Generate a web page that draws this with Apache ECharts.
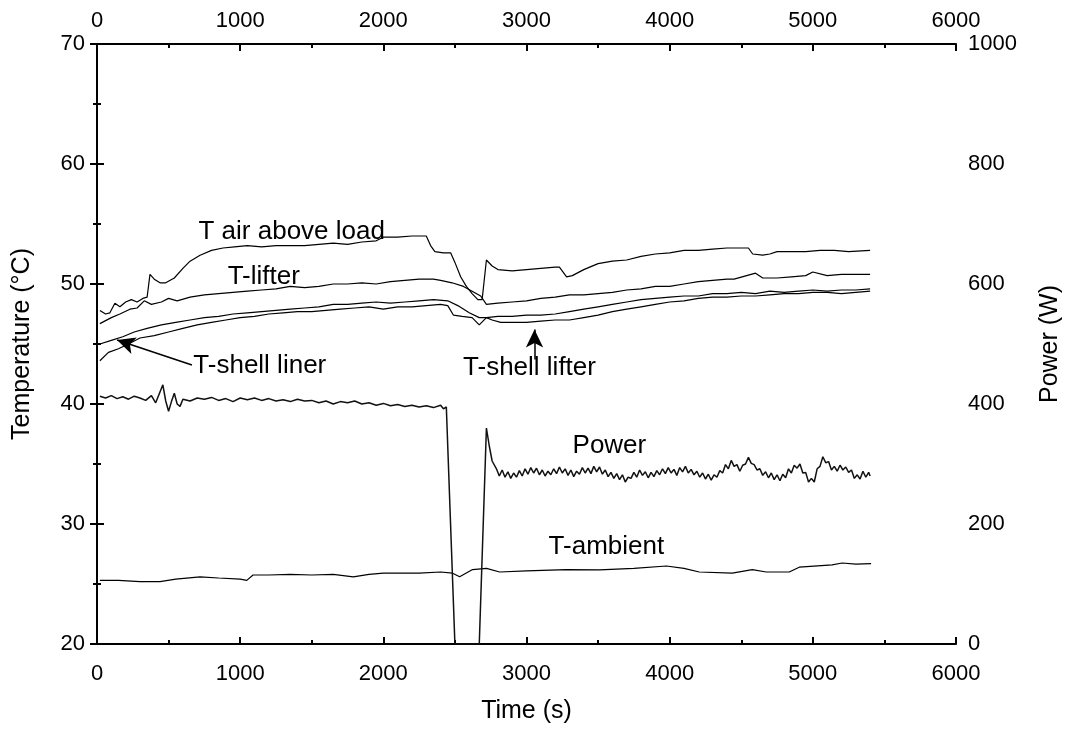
<!DOCTYPE html>
<html>
<head>
<meta charset="utf-8">
<script src="https://cdn.jsdelivr.net/npm/echarts@6/dist/echarts.min.js"></script>
<style>
  html, body { margin: 0; padding: 0; background: #fff; }
  #chart { width: 1071px; height: 729px; }
</style>
</head>
<body>
<div id="chart"></div>
<script>
// time ticks (s)
const timeTicks = [0, 1000, 2000, 3000, 4000, 5000, 6000]

// [time (s), temperature (°C)]
const airAboveLoad = [
  [20,47.8],[60,47.5],[90,47.6],[125,48.4],[160,48.1],[200,48.5],[240,48.7],[280,48.5],[320,48.8],[350,48.9],
  [370,50.8],[400,50.4],[440,50.1],[480,50.1],[540,50.5],[600,51.3],[650,51.9],[720,52.4],[800,52.8],[880,53.0],
  [960,53.1],[1050,53.2],[1150,53.1],[1250,53.2],[1350,53.2],[1450,53.2],[1550,53.3],[1650,53.4],[1750,53.3],
  [1850,53.5],[1950,53.6],[2000,53.9],[2100,53.9],[2200,54.0],[2300,54.0],[2330,53.2],[2360,52.7],[2420,52.6],
  [2470,52.6],[2500,51.8],[2540,50.6],[2580,49.8],[2620,49.2],[2660,48.7],[2690,48.7],[2720,52.0],[2760,51.5],
  [2800,51.2],[2900,51.1],[3000,51.2],[3100,51.3],[3200,51.4],[3230,51.4],[3280,50.6],[3320,50.7],[3400,51.2],
  [3500,51.7],[3600,51.9],[3700,52.0],[3800,52.3],[3900,52.5],[4000,52.6],[4100,52.8],[4200,52.8],[4300,52.9],
  [4400,53.0],[4500,53.0],[4550,53.0],[4580,52.5],[4650,52.4],[4700,52.5],[4750,52.7],[4850,52.7],[4950,52.7],
  [5050,52.8],[5150,52.8],[5250,52.7],[5400,52.8]
]

const lifter = [
  [20,46.7],[100,47.2],[160,47.5],[230,47.9],[280,48.0],[330,48.6],[380,48.3],[450,48.5],[500,48.8],[560,48.6],
  [650,48.9],[750,49.1],[850,49.2],[950,49.3],[1050,49.4],[1150,49.5],[1250,49.6],[1350,49.8],[1450,49.7],
  [1550,49.8],[1650,50.0],[1750,50.0],[1850,50.1],[1950,50.0],[2050,50.2],[2150,50.3],[2250,50.4],[2350,50.4],
  [2400,50.3],[2480,50.1],[2560,49.8],[2620,49.4],[2680,49.0],[2720,48.3],[2800,48.4],[2900,48.5],[3000,48.6],
  [3100,48.8],[3200,48.9],[3300,49.1],[3400,49.1],[3500,49.2],[3600,49.3],[3700,49.5],[3800,49.6],[3900,49.8],
  [4000,49.8],[4100,50.0],[4200,50.2],[4300,50.3],[4400,50.4],[4450,50.4],[4600,50.9],[4650,50.5],[4750,50.5],
  [4850,50.6],[4950,50.7],[5000,51.0],[5100,50.7],[5200,50.8],[5300,50.8],[5400,50.8]
]

const shellLiner = [
  [20,45.0],[100,45.3],[180,45.6],[260,46.0],[350,46.3],[450,46.6],[550,46.8],[650,47.0],[750,47.2],[850,47.3],
  [950,47.5],[1050,47.6],[1150,47.7],[1250,47.8],[1350,47.9],[1450,48.0],[1550,48.1],[1650,48.3],[1750,48.3],
  [1850,48.4],[1950,48.5],[2050,48.4],[2150,48.5],[2250,48.6],[2350,48.7],[2450,48.6],[2520,48.2],[2600,47.6],
  [2670,47.2],[2720,47.2],[2800,47.3],[2900,47.3],[3000,47.4],[3100,47.4],[3200,47.5],[3300,47.7],[3400,47.9],
  [3500,48.1],[3600,48.3],[3700,48.5],[3800,48.7],[3900,48.8],[4000,48.9],[4100,49.0],[4200,49.0],[4300,49.2],
  [4400,49.2],[4500,49.3],[4600,49.2],[4700,49.4],[4800,49.3],[4900,49.4],[5000,49.5],[5100,49.4],[5200,49.5],
  [5300,49.5],[5400,49.6]
]

const shellLifter = [
  [20,43.6],[80,44.3],[150,44.6],[220,45.0],[300,45.5],[400,45.7],[500,46.0],[600,46.3],[700,46.6],[800,46.8],
  [900,47.0],[1000,47.2],[1100,47.3],[1200,47.5],[1300,47.6],[1400,47.7],[1500,47.7],[1600,47.8],[1700,47.9],
  [1800,48.0],[1900,48.1],[2000,47.9],[2100,48.1],[2200,48.1],[2300,48.2],[2400,48.3],[2450,48.2],[2490,47.4],
  [2550,47.3],[2620,47.2],[2670,46.6],[2720,47.2],[2760,47.0],[2820,46.8],[2900,46.8],[3000,46.8],[3100,46.9],
  [3200,47.0],[3300,47.0],[3400,47.2],[3500,47.4],[3600,47.7],[3700,47.9],[3800,48.1],[3900,48.3],[4000,48.5],
  [4100,48.6],[4200,48.8],[4300,48.9],[4400,48.9],[4500,49.0],[4600,49.0],[4700,49.1],[4800,49.2],[4900,49.2],
  [5000,49.3],[5100,49.3],[5200,49.2],[5300,49.3],[5400,49.4]
]

const ambient = [
  [20,25.3],[150,25.3],[300,25.2],[440,25.2],[550,25.4],[720,25.6],[850,25.5],[1000,25.4],[1046,25.3],
  [1090,25.75],[1200,25.75],[1350,25.8],[1500,25.75],[1650,25.8],[1790,25.6],[1900,25.8],[2000,25.9],
  [2114,25.9],[2250,25.9],[2400,26.0],[2484,25.9],[2533,25.6],[2623,26.2],[2721,26.3],[2812,26.0],[3000,26.1],
  [3279,26.2],[3509,26.17],[3750,26.3],[3977,26.5],[4100,26.3],[4207,26.0],[4437,25.9],[4577,26.2],[4675,26.0],
  [4835,26.0],[4905,26.4],[5135,26.6],[5205,26.75],[5300,26.65],[5407,26.7]
]

// [time (s), power (W)]
const power = [
  [20,413],[60,410],[100,414],[140,409],[180,412],[220,408],[260,413],[300,410],[340,406],[380,414],[410,402],
  [440,420],[460,432],[480,405],[500,388],[520,404],[540,418],[560,400],[580,396],[600,408],[650,405],[700,410],
  [750,408],[800,411],[850,406],[900,409],[950,404],[1000,410],[1050,407],[1100,410],[1150,406],[1200,409],
  [1250,405],[1300,407],[1350,404],[1400,408],[1450,405],[1500,406],[1550,402],[1600,405],[1650,400],[1700,404],
  [1750,402],[1800,405],[1850,400],[1900,402],[1950,398],[2000,401],[2050,397],[2100,399],[2150,396],[2200,398],
  [2250,395],[2300,397],[2350,394],[2400,398],[2420,392],[2440,395],[2450,392],[2500,0],[2670,0],[2720,360],
  [2740,330],[2760,305],[2790,292],[2810,280],[2830,290],[2850,278],[2870,287],[2890,276],[2910,285],[2930,278],
  [2950,289],[2970,280],[2990,292],[3010,283],[3030,294],[3050,285],[3070,293],[3090,282],[3110,290],[3130,280],
  [3150,288],[3170,282],[3190,292],[3210,284],[3230,295],[3250,285],[3270,292],[3290,281],[3310,290],[3330,279],
  [3350,288],[3370,283],[3390,294],[3410,285],[3430,293],[3450,284],[3470,296],[3490,287],[3510,295],[3530,283],
  [3550,290],[3570,279],[3590,286],[3610,276],[3630,284],[3650,274],[3670,282],[3690,270],[3710,278],[3730,276],
  [3750,286],[3770,278],[3790,290],[3810,281],[3830,287],[3850,277],[3870,286],[3890,279],[3910,289],[3930,282],
  [3950,292],[3970,284],[3990,294],[4010,285],[4030,291],[4050,281],[4070,294],[4090,287],[4110,296],[4130,285],
  [4150,291],[4170,282],[4190,288],[4210,278],[4230,285],[4250,275],[4270,283],[4290,273],[4310,282],[4330,278],
  [4350,289],[4370,285],[4390,299],[4410,292],[4430,306],[4450,296],[4470,299],[4490,288],[4510,298],[4530,300],
  [4550,311],[4570,301],[4590,299],[4610,290],[4630,292],[4650,281],[4670,287],[4690,277],[4710,285],[4730,274],
  [4750,282],[4770,272],[4790,283],[4810,277],[4830,292],[4850,285],[4870,298],[4890,293],[4910,300],[4930,285],
  [4950,286],[4970,270],[4990,276],[5010,270],[5030,292],[5050,296],[5070,312],[5090,302],[5110,304],[5130,290],
  [5150,296],[5170,288],[5190,298],[5210,290],[5230,295],[5250,286],[5270,290],[5290,276],[5310,282],[5330,275],
  [5350,288],[5370,278],[5390,286],[5400,280]
]

const font = 'Liberation Sans, Arial, sans-serif'
const plain = v => String(v)

function lineSeries(name, data, yIndex, extra) {
  return Object.assign({
    name: name,
    type: 'line',
    data: data,
    yAxisIndex: yIndex,
    showSymbol: false,
    symbol: 'none',
    lineStyle: { color: '#000', width: 1.2 },
    z: 3
  }, extra || {})
}

function tag(text, t, v) {
  return {
    coord: [t, v],
    symbol: 'circle',
    symbolSize: 1,
    itemStyle: { color: 'rgba(0,0,0,0)' },
    label: { show: true, position: 'inside', formatter: text, color: '#000', fontSize: 26, fontFamily: font }
  }
}

function arrow(t0, v0, t1, v1) {
  return [{ coord: [t0, v0] }, { coord: [t1, v1] }]
}

function xAxis(pos, margin) {
  return {
    type: 'value',
    position: pos,
    min: 0,
    max: 6000,
    interval: 1000,
    axisLine: { show: true, onZero: false, lineStyle: { color: '#000', width: 2 } },
    axisTick: { show: true, inside: true, length: 7, lineStyle: { color: '#000', width: 2 } },
    minorTick: { show: true, splitNumber: 2, length: 4, lineStyle: { color: '#000', width: 2 } },
    axisLabel: { color: '#000', fontSize: 22, fontFamily: font, margin: margin, formatter: plain },
    splitLine: { show: false },
    data: timeTicks
  }
}

function yAxis(pos, min, max, step, name, gap) {
  return {
    type: 'value',
    position: pos,
    min: min,
    max: max,
    interval: step,
    name: name,
    nameLocation: 'middle',
    nameRotate: 90,
    nameGap: gap,
    nameTextStyle: { color: '#000', fontSize: 25, fontFamily: font },
    axisLine: { show: true, lineStyle: { color: '#000', width: 2 } },
    axisTick: { show: true, inside: true, length: 7, lineStyle: { color: '#000', width: 2 } },
    minorTick: { show: true, splitNumber: 2, length: 4, lineStyle: { color: '#000', width: 2 } },
    axisLabel: { color: '#000', fontSize: 22, fontFamily: font, margin: 12, formatter: plain },
    splitLine: { show: false }
  }
}

const chart = echarts.init(document.getElementById('chart'))
chart.setOption({
  animation: false,
  backgroundColor: '#fff',
  grid: { left: 97, right: 114, top: 44, bottom: 85 },
  xAxis: [
    Object.assign(xAxis('bottom', 19), {
      name: 'Time (s)',
      nameLocation: 'middle',
      nameGap: 55,
      nameTextStyle: { color: '#000', fontSize: 25, fontFamily: font }
    }),
    xAxis('top', 12)
  ],
  yAxis: [
    yAxis('left', 20, 70, 10, 'Temperature (°C)', 62),
    yAxis('right', 0, 1000, 200, 'Power (W)', 82)
  ],
  series: [
    lineSeries('T air above load', airAboveLoad, 0, {
      markPoint: { silent: true, data: [
        tag('T air above load', 1360, 54.35),
        tag('T-lifter', 1165, 50.6),
        tag('T-shell liner', 1137, 43.15),
        tag('T-shell lifter', 3021, 43.0),
        tag('T-ambient', 3558, 28.1)
      ] }
    }),
    lineSeries('T-lifter', lifter, 0),
    lineSeries('T-shell liner', shellLiner, 0, {
      markLine: {
        silent: true,
        symbol: ['none', 'arrow'],
        symbolSize: [13, 18],
        label: { show: false },
        lineStyle: { color: '#000', width: 1.5, type: 'solid' },
        data: [arrow(663, 43.25, 140, 45.33), arrow(3056, 43.7, 3056, 46.2)]
      }
    }),
    lineSeries('T-shell lifter', shellLifter, 0),
    lineSeries('T-ambient', ambient, 0),
    lineSeries('Power', power, 1, {
      lineStyle: { color: '#111', width: 1.5 },
      markPoint: { silent: true, data: [tag('Power', 3579, 330)] }
    })
  ]
})
</script>
</body>
</html>
